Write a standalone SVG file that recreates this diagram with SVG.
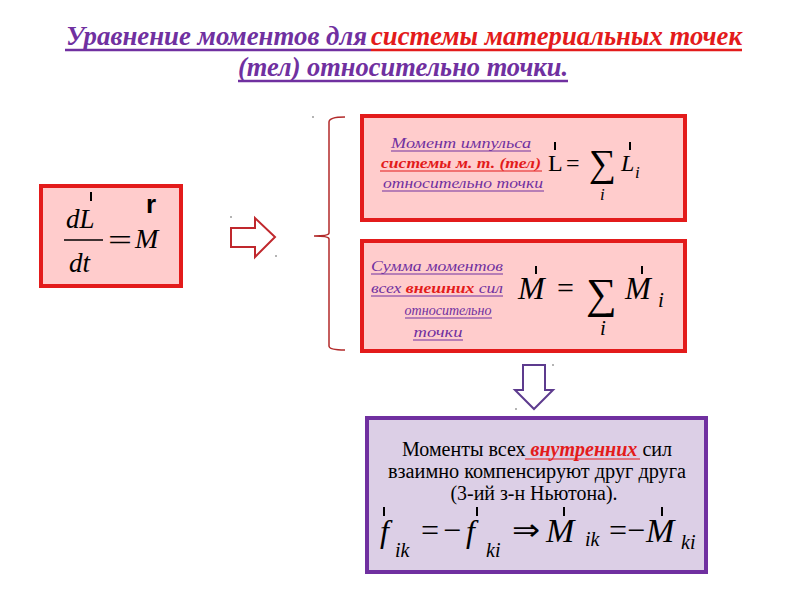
<svg xmlns="http://www.w3.org/2000/svg" width="800" height="600" viewBox="0 0 800 600">
<style>
.title{font-family:"Liberation Serif",serif;font-weight:bold;font-style:italic;font-size:27px}
.pu{fill:#7030a0}
.rd{fill:#e31b1b}
.lbl{font-family:"Liberation Serif",serif;font-style:italic;font-size:15px;text-anchor:middle}
.m{font-family:"Liberation Serif",serif;font-style:italic;fill:#000}
.mr{font-family:"Liberation Serif",serif;fill:#000}
.redbox{fill:#ffcccc;stroke:#e31b1b;stroke-width:4}
.tick{stroke:#000;stroke-width:2}
.ul-p{stroke:#7030a0;stroke-width:1.2}
.ul-r{stroke:#e31b1b;stroke-width:1.2}
.b3{font-family:"Liberation Serif",serif;font-size:20px;fill:#000;text-anchor:middle}
</style>
<rect width="800" height="600" fill="#ffffff"/>

<g id="title">
<text class="title pu" x="66" y="45" textLength="301" lengthAdjust="spacingAndGlyphs">Уравнение моментов для</text>
<text class="title rd" x="371" y="45" textLength="371" lengthAdjust="spacingAndGlyphs">системы материальных точек</text>
<line x1="65" y1="50" x2="371" y2="50" stroke="#7030a0" stroke-width="2.5"/>
<line x1="371" y1="50" x2="742" y2="50" stroke="#e31b1b" stroke-width="2.5"/>
<text class="title pu" x="238" y="76" textLength="330" lengthAdjust="spacingAndGlyphs">(тел) относительно точки.</text>
<line x1="238" y1="81" x2="568" y2="81" stroke="#7030a0" stroke-width="2.5"/>
</g>

<g id="node-law">
<rect class="redbox" x="41" y="186" width="140" height="100"/>
<text class="m" x="66" y="228" font-size="27">dL</text>
<line class="tick" x1="91" y1="192" x2="91" y2="201"/>
<line x1="64" y1="240" x2="103" y2="240" stroke="#000" stroke-width="1.5"/>
<text class="m" x="69" y="272" font-size="27">dt</text>
<text class="mr" x="108" y="250" font-size="30" textLength="24" lengthAdjust="spacingAndGlyphs">=</text>
<text class="m" x="135" y="248" font-size="28">M</text>
<text x="146" y="213" font-family="Liberation Sans,sans-serif" font-weight="bold" font-size="26" fill="#000">r</text>
</g>

<g id="node-L">
<rect class="redbox" x="362" y="116" width="323" height="104"/>
<text class="lbl pu" x="461" y="148" textLength="140" lengthAdjust="spacingAndGlyphs">Момент импульса</text>
<line class="ul-p" x1="391" y1="151" x2="531" y2="151"/>
<text class="lbl rd" x="461" y="168" font-weight="bold" textLength="160" lengthAdjust="spacingAndGlyphs">системы м. т. (тел)</text>
<line class="ul-r" x1="380" y1="171" x2="542" y2="171"/>
<text class="lbl pu" x="463" y="188" textLength="160" lengthAdjust="spacingAndGlyphs">относительно точки</text>
<line class="ul-p" x1="382" y1="191" x2="544" y2="191"/>
<text class="mr" x="548" y="171" font-size="24">L</text>
<line class="tick" x1="555" y1="142" x2="555" y2="150"/>
<text class="mr" x="566" y="171" font-size="24">=</text>
<text class="mr" x="589" y="176" font-size="38">∑</text>
<text class="m" x="600" y="200" font-size="17">i</text>
<text class="m" x="621" y="171" font-size="24">L</text>
<line class="tick" x1="630" y1="142" x2="630" y2="150"/>
<text class="m" x="635" y="178" font-size="17">i</text>
</g>

<g id="node-M">
<rect class="redbox" x="362" y="241" width="323" height="110"/>
<text class="lbl pu" x="437" y="271" textLength="132" lengthAdjust="spacingAndGlyphs">Сумма моментов</text>
<line class="ul-p" x1="371" y1="274" x2="503" y2="274"/>
<text class="lbl" x="437" y="293" textLength="132" lengthAdjust="spacingAndGlyphs"><tspan class="pu">всех </tspan><tspan class="rd" font-weight="bold">внешних</tspan><tspan class="pu"> сил</tspan></text>
<line class="ul-p" x1="371" y1="296" x2="503" y2="296"/>
<text class="lbl pu" x="448" y="315" textLength="87" lengthAdjust="spacingAndGlyphs">относительно</text>
<line class="ul-p" x1="405" y1="318" x2="492" y2="318"/>
<text class="lbl pu" x="438" y="337" textLength="49" lengthAdjust="spacingAndGlyphs">точки</text>
<line class="ul-p" x1="413" y1="340" x2="463" y2="340"/>
<text class="m" x="518" y="299" font-size="32">M</text>
<line class="tick" x1="536" y1="266" x2="536" y2="274"/>
<text class="mr" x="557" y="298" font-size="30">=</text>
<text class="mr" x="586" y="308" font-size="43">∑</text>
<text class="m" x="600" y="335" font-size="21">i</text>
<text class="m" x="625" y="299" font-size="31">M</text>
<line class="tick" x1="642" y1="266" x2="642" y2="274"/>
<text class="m" x="658" y="307" font-size="21">i</text>
</g>

<g id="node-internal">
<rect x="367" y="418" width="339" height="154" fill="#dccfe6" stroke="#7030a0" stroke-width="4"/>
<text class="b3" x="537" y="456" textLength="270" lengthAdjust="spacingAndGlyphs"><tspan>Моменты всех </tspan><tspan fill="#e31b1b" font-weight="bold" font-style="italic">внутренних </tspan><tspan>сил</tspan></text>
<line x1="525" y1="459" x2="640" y2="459" stroke="#e31b1b" stroke-width="1.2"/>
<text class="b3" x="537" y="478" textLength="298" lengthAdjust="spacingAndGlyphs">взаимно компенсируют друг друга</text>
<text class="b3" x="534" y="500" textLength="167" lengthAdjust="spacingAndGlyphs">(3-ий з-н Ньютона).</text>
<text class="m" x="380" y="542" font-size="32">f</text>
<line class="tick" x1="384" y1="507" x2="384" y2="516"/>
<text class="m" x="395" y="557" font-size="20">ik</text>
<text class="mr" x="421" y="541" font-size="32">=</text>
<text class="mr" x="443" y="541" font-size="32">−</text>
<text class="m" x="466" y="542" font-size="32">f</text>
<line class="tick" x1="477" y1="507" x2="477" y2="516"/>
<text class="m" x="486" y="557" font-size="20">ki</text>
<text class="mr" x="512" y="540" font-size="30" textLength="28" lengthAdjust="spacingAndGlyphs">⇒</text>
<text class="m" x="546" y="542" font-size="34">M</text>
<line class="tick" x1="564" y1="507" x2="564" y2="516"/>
<text class="m" x="585" y="546" font-size="20">ik</text>
<text class="mr" x="609" y="541" font-size="32">=</text>
<text class="mr" x="627" y="541" font-size="32">−</text>
<text class="m" x="646" y="542" font-size="34">M</text>
<line class="tick" x1="662" y1="507" x2="662" y2="516"/>
<text class="m" x="681" y="549" font-size="20">ki</text>
</g>

<g id="connectors">
<path d="M231,228 L255,228 L255,218 L275,237 L255,257 L255,247 L231,247 Z" fill="#ffffff" stroke="#c0282d" stroke-width="2"/>
<path d="M345,117 Q329,117 329,122 L329,233 Q329,236 314,236 Q329,236 329,239 L329,346 Q329,350 345,350" fill="none" stroke="#b22a2a" stroke-width="1.5"/>
<path d="M523,365 L545,365 L545,390 L553,390 L534,409 L515,390 L523,390 Z" fill="#ffffff" stroke="#5d3b8e" stroke-width="2"/>
<circle cx="313" cy="117" r="0.8" fill="#555"/>
<circle cx="231" cy="217" r="0.8" fill="#555"/>
<circle cx="276" cy="256" r="0.8" fill="#555"/>
<circle cx="553" cy="365" r="0.8" fill="#555"/>
<circle cx="516" cy="409" r="0.8" fill="#555"/>
</g>
</svg>
